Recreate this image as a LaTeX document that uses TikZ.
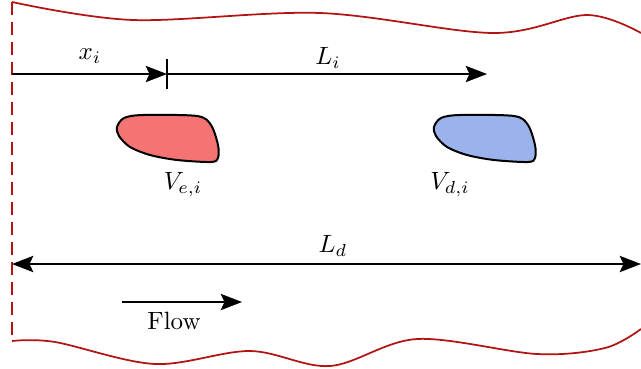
\documentclass[tikz,border=0pt]{standalone}
\usetikzlibrary{arrows.meta}
\definecolor{wall}{RGB}{178,20,20}
\definecolor{redblob}{RGB}{244,115,115}
\definecolor{blueblob}{RGB}{154,179,236}
\begin{document}
\begin{tikzpicture}[x=0.4pt,y=-0.4pt,
  dim/.style={line width=0.8pt},
  tip/.style={-{Stealth[length=8.5pt,width=6.5pt,inset=1.5pt]}},
  dtip/.style={{Stealth[length=8.5pt,width=6.5pt,inset=1.5pt]}-{Stealth[length=8.5pt,width=6.5pt,inset=1.5pt]}},
  wallline/.style={draw=wall,line width=0.7pt},
  blob/.style={draw=black,line width=0.8pt},
  lbl/.style={inner sep=1pt}]
\useasboundingbox (0,0) rectangle (641,368);
% walls
\draw[wallline] plot[smooth,tension=0.55] coordinates {(12,2) (133,20) (320,13) (493,33) (587,15) (641,33)};
\draw[wallline] plot[smooth,tension=0.55] coordinates {(12,341) (55,342) (155,364) (250,351) (330,366) (417,339) (537,354) (605,348) (641,329)};
\draw[wallline,dash pattern=on 5pt off 3pt] (12,2) -- (12,341);
% blobs
\filldraw[blob,fill=redblob] plot[smooth cycle,tension=0.5] coordinates {(117,127) (124,118) (143,115) (197,116) (211,125) (218,145) (218,158) (211,162) (177,160) (150,155) (130,147) (119,136)};
\begin{scope}[xshift=317*0.4pt]
\filldraw[blob,fill=blueblob] plot[smooth cycle,tension=0.5] coordinates {(117,127) (124,118) (143,115) (197,116) (211,125) (218,145) (218,158) (211,162) (177,160) (150,155) (130,147) (119,136)};
\end{scope}
% coordinates
\coordinate (o) at (12,74);
\coordinate (xi) at (167,74);
\coordinate (li) at (487,74);
\coordinate (dl) at (12,264);
\coordinate (dr) at (641,264);
\coordinate (fa) at (122,302);
\coordinate (fb) at (242,302);
% arrows
\draw[dim,tip] (o) -- (xi);
\draw[dim] ([yshift=-6]xi) -- ([yshift=6]xi);
\draw[dim,tip] (xi) -- (li);
\draw[dim,dtip] (dl) -- (dr);
\draw[dim,tip] (fa) -- (fb);
% labels
\node[lbl] (lxi) at (90,56) {$x_i$};
\node[lbl] (lli) at (328,58) {$L_i$};
\node[lbl] (lve) at (183,185) {$V_{e,i}$};
\node[lbl] (lvd) at (450,185) {$V_{d,i}$};
\node[lbl] (lld) at (333,246) {$L_d$};
\node[lbl] (lfl) at (174,321) {Flow};
\end{tikzpicture}
\end{document}
